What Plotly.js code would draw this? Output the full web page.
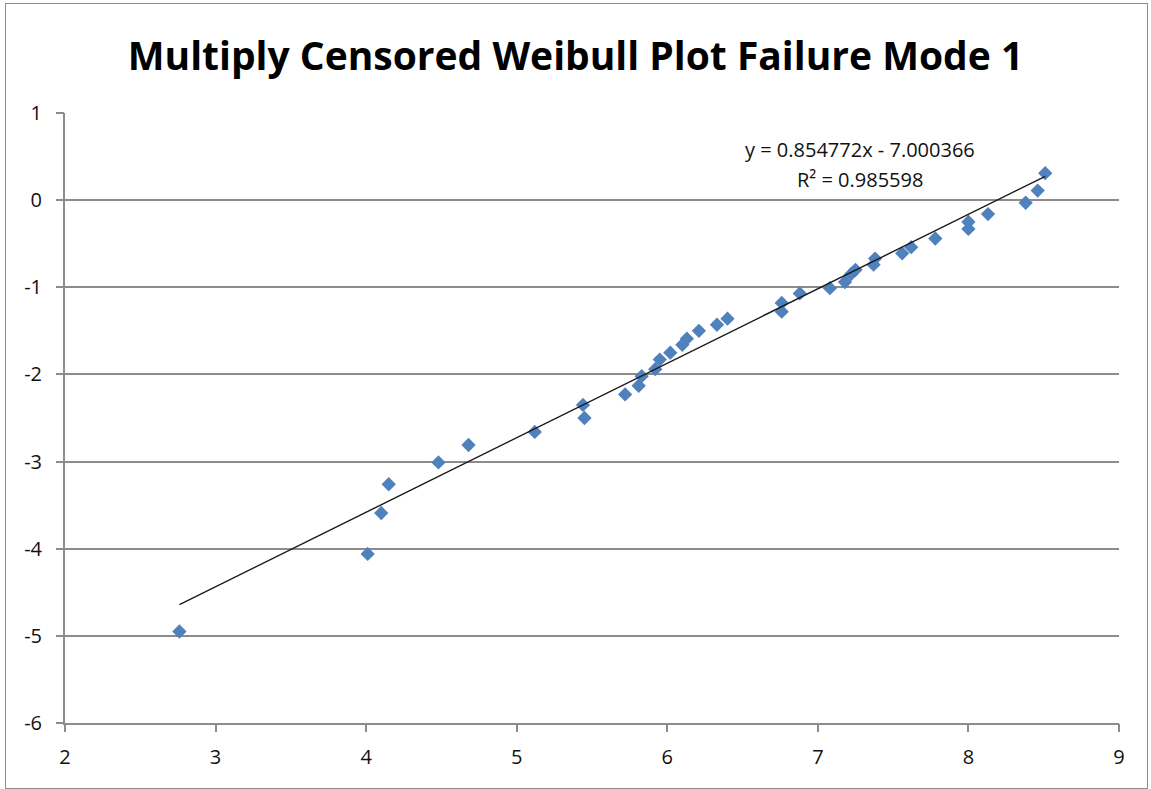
<!DOCTYPE html>
<html>
<head>
<meta charset="utf-8">
<script src="https://cdn.plot.ly/plotly-3.0.1.min.js"></script>
<style>
html,body{margin:0;padding:0;background:#fff;}
#wrap{position:relative;width:1151px;height:789px;}
#chart{width:1151px;height:789px;}
#frame{position:absolute;left:5px;top:3px;width:1141px;height:784px;border:1px solid #8c8c8c;pointer-events:none;}
</style>
</head>
<body>
<div id="wrap"><div id="chart"></div><div id="frame"></div></div>
<script>
// Data
var lnTime = [2.76, 4.01, 4.10, 4.15, 4.48, 4.68, 5.12, 5.44, 5.45, 5.72,
              5.81, 5.83, 5.92, 5.95, 6.02, 6.10, 6.13, 6.21, 6.33, 6.40,
              6.76, 6.76, 6.88, 7.08, 7.18, 7.22, 7.25, 7.37, 7.38, 7.56,
              7.62, 7.78, 8.00, 8.00, 8.13, 8.38, 8.46, 8.51];
var lnlnF  = [-4.95, -4.06, -3.59, -3.26, -3.01, -2.81, -2.66, -2.35, -2.50, -2.23,
              -2.13, -2.02, -1.94, -1.83, -1.75, -1.66, -1.59, -1.50, -1.43, -1.36,
              -1.28, -1.18, -1.07, -1.01, -0.94, -0.85, -0.80, -0.74, -0.67, -0.61,
              -0.54, -0.44, -0.33, -0.25, -0.16, -0.03, 0.11, 0.31];
var slope = 0.854772;
var intercept = -7.000366;
var r2 = 0.985598;
var xTicks = [2, 3, 4, 5, 6, 7, 8, 9];
var yTicks = [1, 0, -1, -2, -3, -4, -5, -6];

var xMin = Math.min.apply(null, lnTime);
var xMax = Math.max.apply(null, lnTime);
var trendX = [xMin, xMax];
var trendY = trendX.map(function(v){ return slope * v + intercept; });

var points = {
  x: lnTime, y: lnlnF, type: 'scatter', mode: 'markers',
  marker: {symbol: 'diamond', color: '#4F81BD', size: 11, line: {width: 0}},
  hoverinfo: 'x+y'
};
var trend = {
  x: trendX, y: trendY, type: 'scatter', mode: 'lines', xaxis: 'x2', yaxis: 'y2',
  line: {color: '#1a1a1a', width: 1.4}, hoverinfo: 'skip'
};

var fam = 'Open Sans, Liberation Sans, sans-serif';
var xRange = [2, 9], yRange = [-6, 1];
var layout = {
  width: 1151, height: 789,
  margin: {l: 65, r: 32, t: 113, b: 66},
  paper_bgcolor: '#fff', plot_bgcolor: '#fff',
  showlegend: false,
  title: {
    text: '<b>Multiply Censored Weibull Plot Failure Mode 1</b>',
    font: {family: fam, size: 39, color: '#000'},
    x: 0.5, xanchor: 'center', y: 0.928, yanchor: 'middle'
  },
  // label axes: transparent long ticks push the labels away from the axis line
  xaxis: {
    range: xRange, tickmode: 'array', tickvals: xTicks, ticktext: xTicks.map(String),
    showgrid: false, zeroline: false,
    showline: true, linecolor: '#8c8c8c', linewidth: 2,
    ticks: 'outside', ticklen: 15, tickwidth: 1, tickcolor: 'rgba(0,0,0,0)',
    tickfont: {family: fam, size: 20, color: '#111'}
  },
  yaxis: {
    range: yRange, tickmode: 'array', tickvals: yTicks, ticktext: yTicks.map(String),
    showgrid: true, gridcolor: '#8c8c8c', gridwidth: 1.5,
    zeroline: false,
    showline: true, linecolor: '#8c8c8c', linewidth: 2,
    ticks: 'outside', ticklen: 17, tickwidth: 1, tickcolor: 'rgba(0,0,0,0)',
    tickfont: {family: fam, size: 20, color: '#111'}
  },
  // tick-mark axes: visible short ticks, no labels
  xaxis2: {
    range: xRange, overlaying: 'x', side: 'bottom', anchor: 'y2',
    tickmode: 'array', tickvals: xTicks, showticklabels: false,
    showgrid: false, zeroline: false, showline: false,
    ticks: 'outside', ticklen: 8, tickwidth: 2, tickcolor: '#8c8c8c'
  },
  yaxis2: {
    range: yRange, overlaying: 'y', side: 'left', anchor: 'x2',
    tickmode: 'array', tickvals: yTicks, showticklabels: false,
    showgrid: false, zeroline: false, showline: false,
    ticks: 'outside', ticklen: 8, tickwidth: 2, tickcolor: '#8c8c8c'
  },
  annotations: [
    {x: 7.28, y: 0.58, xref: 'x', yref: 'y', showarrow: false,
     text: 'y = ' + slope.toFixed(6) + 'x - ' + Math.abs(intercept).toFixed(6),
     font: {family: fam, size: 20, color: '#111'}},
    {x: 7.28, y: 0.235, xref: 'x', yref: 'y', showarrow: false,
     text: 'R² = ' + r2.toFixed(6),
     font: {family: fam, size: 20, color: '#111'}}
  ]
};

Plotly.newPlot('chart', [trend, points], layout, {displayModeBar: false});
</script>
</body>
</html>
